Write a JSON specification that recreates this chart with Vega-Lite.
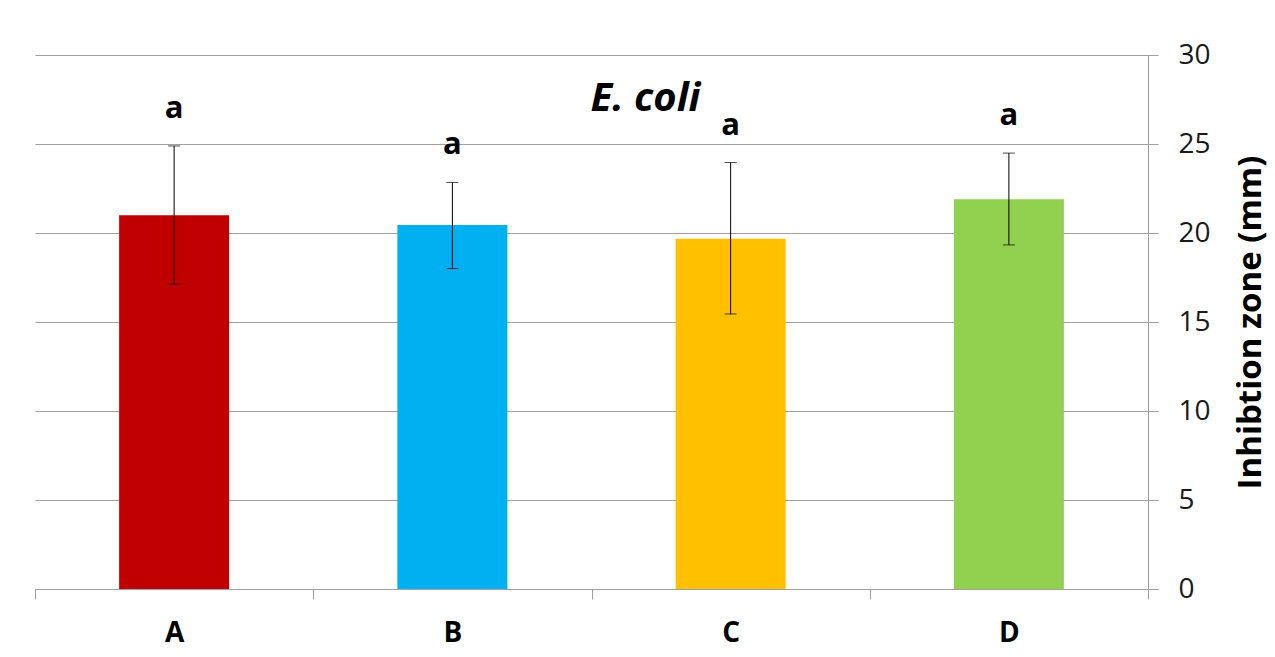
{
  "$schema": "https://vega.github.io/schema/vega-lite/v6.json",
  "width": 1113,
  "height": 534,
  "autosize": "none",
  "padding": {"left": 35, "top": 55, "right": 127, "bottom": 68},
  "background": "white",
  "title": {
    "text": "E. coli",
    "font": "Open Sans",
    "fontSize": 40,
    "fontWeight": "bold",
    "fontStyle": "italic",
    "color": "black",
    "anchor": "middle",
    "dx": 54,
    "offset": -98,
    "baseline": "middle"
  },
  "config": {
    "view": {"stroke": null},
    "font": "Open Sans",
    "axisY": {
      "titleFont": "Open Sans",
      "titleFontSize": 33,
      "titleFontWeight": "bold",
      "titleColor": "black",
      "titleAngle": -90,
      "titleBaseline": "top",
      "titlePadding": 24,
      "labelFont": "Open Sans",
      "labelFontSize": 28,
      "labelColor": "#1a1a1a",
      "labelPadding": 20,
      "tickSize": 10,
      "tickColor": "#a0a0a0",
      "domainColor": "#a0a0a0",
      "grid": true,
      "gridColor": "#a0a0a0",
      "gridOpacity": 1
    }
  },
  "data": {
    "values": [
      {"group": "A", "mean": 21.0, "lo": 17.13, "hi": 24.89, "sig": "a"},
      {"group": "B", "mean": 20.45, "lo": 18.0, "hi": 22.84, "sig": "a"},
      {"group": "C", "mean": 19.68, "lo": 15.45, "hi": 23.96, "sig": "a"},
      {"group": "D", "mean": 21.9, "lo": 19.33, "hi": 24.49, "sig": "a"}
    ]
  },
  "encoding": {
    "x": {
      "field": "group",
      "type": "nominal",
      "scale": {"paddingInner": 0, "paddingOuter": 0},
      "axis": {
        "title": null,
        "labelAngle": 0,
        "labelFont": "Open Sans",
        "labelFontSize": 28,
        "labelFontWeight": "bold",
        "labelColor": "black",
        "labelPadding": 20,
        "tickBand": "extent",
        "tickSize": 10,
        "tickColor": "#a0a0a0",
        "domainColor": "#a0a0a0",
        "grid": false
      }
    }
  },
  "layer": [
    {
      "mark": {"type": "bar", "size": 110},
      "encoding": {
        "y": {
          "field": "mean",
          "type": "quantitative",
          "title": "Inhibtion zone (mm)",
          "scale": {"domain": [0, 30], "nice": false},
          "axis": {"orient": "right", "values": [0, 5, 10, 15, 20, 25, 30]}
        },
        "color": {
          "field": "group",
          "type": "nominal",
          "scale": {"domain": ["A", "B", "C", "D"], "range": ["#C00000", "#00B0F0", "#FFC000", "#92D050"]},
          "legend": null
        }
      }
    },
    {
      "mark": {"type": "rule", "color": "black", "strokeWidth": 1},
      "encoding": {
        "y": {"field": "lo", "type": "quantitative", "title": "Inhibtion zone (mm)", "axis": {"orient": "right", "values": [0, 5, 10, 15, 20, 25, 30]}},
        "y2": {"field": "hi"}
      }
    },
    {
      "mark": {"type": "tick", "color": "black", "size": 12, "thickness": 1, "orient": "horizontal"},
      "encoding": {"y": {"field": "lo", "type": "quantitative", "title": "Inhibtion zone (mm)", "axis": {"orient": "right", "values": [0, 5, 10, 15, 20, 25, 30]}}}
    },
    {
      "mark": {"type": "tick", "color": "black", "size": 12, "thickness": 1, "orient": "horizontal"},
      "encoding": {"y": {"field": "hi", "type": "quantitative", "title": "Inhibtion zone (mm)", "axis": {"orient": "right", "values": [0, 5, 10, 15, 20, 25, 30]}}}
    },
    {
      "mark": {"type": "text", "font": "Open Sans", "fontSize": 31, "fontWeight": "bold", "color": "black", "dy": -37, "baseline": "middle"},
      "encoding": {
        "y": {"field": "hi", "type": "quantitative", "title": "Inhibtion zone (mm)", "axis": {"orient": "right", "values": [0, 5, 10, 15, 20, 25, 30]}},
        "text": {"field": "sig"}
      }
    }
  ]
}
